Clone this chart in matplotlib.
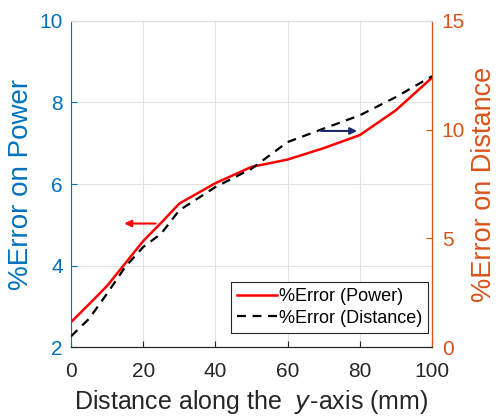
import matplotlib.pyplot as plt

plt.rcParams['font.family'] = ['Liberation Sans', 'DejaVu Sans']

dist = [0, 5, 10, 15, 20, 25, 30, 40, 50, 60, 70, 80, 90, 100]
err_power = [2.61, 3.05, 3.5, 4.05, 4.6, 5.05, 5.52, 6.02, 6.42, 6.6, 6.88, 7.2, 7.81, 8.61]
err_dist = [0.49, 1.3, 2.46, 3.68, 4.6, 5.22, 6.29, 7.36, 8.2, 9.43, 10.05, 10.66, 11.5, 12.46]

blue = '#0072BD'
orange = '#D95319'

fig = plt.figure(figsize=(4.99, 4.19), dpi=100)
ax1 = fig.add_axes([71 / 499, 1 - 347 / 419, 361 / 499, 326 / 419])
ax2 = ax1.twinx()

l1, = ax1.plot(dist, err_power, color='#FF0000', lw=1.8, label='%Error (Power)')
l2, = ax2.plot(dist, err_dist, color='black', lw=1.6, ls=(0, (4, 3)), label='%Error (Distance)')

ax1.set_xlim(0, 100)
ax1.set_ylim(2, 10)
ax2.set_ylim(0, 15)
ax1.set_xticks([0, 20, 40, 60, 80, 100])
ax1.set_yticks([2, 4, 6, 8, 10])
ax2.set_yticks([0, 5, 10, 15])
ax1.grid(True, color='#e3e3e3', lw=0.8)

ax1.tick_params(axis='x', direction='in', labelsize=15, colors='#262626', length=4, pad=11)
ax1.tick_params(axis='y', direction='in', labelsize=15, colors=blue, length=4, pad=6)
ax2.tick_params(axis='y', direction='in', labelsize=15, colors=orange, length=4, pad=7)

ax1.spines['left'].set_color(blue)
ax2.spines['right'].set_color(orange)
ax2.spines['left'].set_visible(False)
for ax in (ax1, ax2):
    ax.spines['top'].set_color('#e0e0e0')
    ax.spines['bottom'].set_color('#262626')

ax1.set_xlabel('Distance along the  $\\it{y}$-axis (mm)', fontsize=18, color='#262626', labelpad=5)
ax1.set_ylabel('%Error on Power', fontsize=20, color=blue, labelpad=4)
ax2.set_ylabel('%Error on Distance', fontsize=19.5, color=orange, labelpad=4)

# arrows pointing to the matching axis
ax1.annotate('', xy=(14, 5.03), xytext=(24.2, 5.03),
             arrowprops=dict(arrowstyle='-|>', color='#FF0000', lw=1.5, mutation_scale=10))
ax2.annotate('', xy=(80, 9.94), xytext=(68.5, 9.94),
             arrowprops=dict(arrowstyle='-|>', color='#1a2a6c', lw=1.5, mutation_scale=10))

leg = ax2.legend(handles=[l1, l2], loc='lower right', fontsize=13, fancybox=False,
                 edgecolor='#262626', framealpha=1, handlelength=2.2,
                 handletextpad=0.1, borderpad=0.35, labelspacing=0.25,
                 bbox_to_anchor=(0.99, 0.043), borderaxespad=0)
leg.get_frame().set_linewidth(0.8)

plt.savefig('out.png', dpi=100)
